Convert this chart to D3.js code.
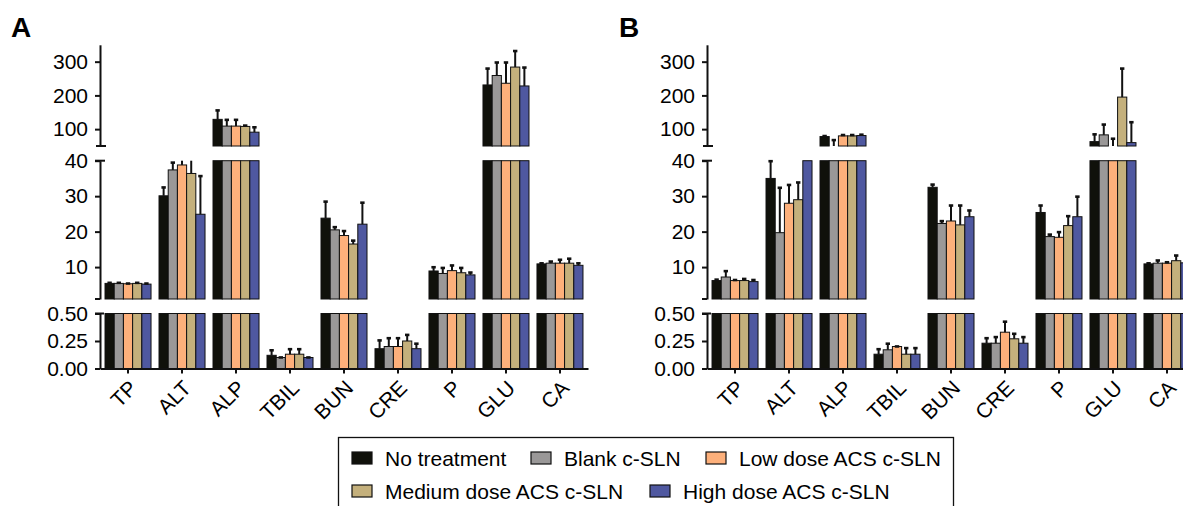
<!DOCTYPE html>
<html><head><meta charset="utf-8">
<script src="https://cdn.jsdelivr.net/npm/d3@7"></script>
<style>
body{margin:0;background:#fff}
svg{display:block}
text{font-family:"Liberation Sans",Arial,Helvetica,sans-serif;fill:#000}
</style>
</head><body>
<svg id="chart" width="1183" height="506"></svg>
<script>
// ---------- data ----------
const categories = ["TP","ALT","ALP","TBIL","BUN","CRE","P","GLU","CA"];
const seriesNames = ["No treatment","Blank c-SLN","Low dose ACS c-SLN","Medium dose ACS c-SLN","High dose ACS c-SLN"];
const seriesColors = ["#10110b","#9a9898","#fdb07b","#c4b07c","#4f58a0"];

// Panel A (means, upper SD)
const A_none      = [5.4, 30.1, 129, 0.12, 23.8, 0.18, 8.9, 231, 10.9];
const A_none_err  = [0.3, 2.5, 28, 0.05, 4.8, 0.08, 1.2, 50, 0.3];
const A_blank     = [5.4, 37.4, 109, 0.10, 20.5, 0.20, 8.2, 259, 11.1];
const A_blank_err = [0.3, 2.2, 20, 0.005, 0.9, 0.08, 1.7, 40, 0.6];
const A_low       = [5.3, 38.8, 109, 0.13, 18.9, 0.20, 9.0, 236, 11.1];
const A_low_err   = [0.2, 1.5, 20, 0.05, 1.4, 0.08, 1.6, 63, 1.1];
const A_med       = [5.4, 36.4, 108, 0.13, 16.5, 0.25, 8.4, 284, 11.1];
const A_med_err   = [0.3, 4.0, 4, 0.05, 1.1, 0.06, 1.5, 49, 1.4];
const A_high      = [5.2, 24.9, 91, 0.10, 22.1, 0.18, 7.8, 228, 10.5];
const A_high_err  = [0.3, 10.9, 16, 0.005, 6.2, 0.05, 0.8, 56, 0.7];

// Panel B
const B_none      = [6.2, 35.0, 78, 0.13, 32.5, 0.23, 25.4, 63, 10.9];
const B_none_err  = [0.4, 5.0, 3, 0.05, 0.9, 0.05, 2.1, 23, 0.3];
const B_blank     = [7.2, 19.7, 47, 0.17, 22.3, 0.23, 18.6, 83, 11.1];
const B_blank_err = [1.8, 12.8, 22, 0.06, 0.8, 0.06, 0.7, 32, 0.9];
const B_low       = [6.2, 28.0, 80, 0.20, 23.0, 0.33, 18.4, 45, 11.1];
const B_low_err   = [0.3, 5.3, 4, 0.005, 4.5, 0.10, 1.6, 28, 0.4];
const B_med       = [6.2, 29.0, 80, 0.13, 21.9, 0.27, 21.7, 195, 11.8];
const B_med_err   = [0.6, 5.0, 4, 0.06, 5.6, 0.05, 2.8, 86, 1.6];
const B_high      = [5.9, 45.0, 81, 0.13, 24.2, 0.23, 24.2, 60, 11.2];
const B_high_err  = [0.6, 5.0, 4, 0.06, 1.9, 0.06, 5.8, 62, 0.7];

// axis segments
const topTicks = [100, 200, 300];
const midTicks = [10, 20, 30, 40];
const lowTicks = [0, 0.25, 0.5];
const topDomain = [50, 350];
const midDomain = [1, 40];
const lowDomain = [0, 0.5];

// ---------- layout ----------
const svg = d3.select("#chart");
const FS = 21;
const segDefs = [
  {domain: topDomain, range: [146, 44.8], ticks: topTicks, fmt: d3.format("d")},
  {domain: midDomain, range: [299, 160.7], ticks: midTicks, fmt: d3.format("d")},
  {domain: lowDomain, range: [368.5, 313.5], ticks: lowTicks, fmt: d3.format(".2f")}
];

const panels = [
  {label: "A", axisX: 100, labelX: 11,
   means: [A_none, A_blank, A_low, A_med, A_high],
   errs: [A_none_err, A_blank_err, A_low_err, A_med_err, A_high_err]},
  {label: "B", axisX: 707, labelX: 619,
   means: [B_none, B_blank, B_low, B_med, B_high],
   errs: [B_none_err, B_blank_err, B_low_err, B_med_err, B_high_err]}
];

panels.forEach(p => {
  const g = svg.append("g");
  const x = d3.scaleBand().domain(categories)
    .range([p.axisX, p.axisX + 488]).paddingInner(0.148).paddingOuter(0.093);
  const xs = d3.scaleBand().domain(d3.range(seriesNames.length))
    .range([0, x.bandwidth()]).padding(0);

  g.append("text").attr("x", p.labelX).attr("y", 37)
    .attr("font-size", 28).attr("font-weight", "bold").text(p.label);

  segDefs.forEach((s, si) => {
    const y = d3.scaleLinear().domain(s.domain).range(s.range);
    const [d0, d1] = s.domain;
    const sg = g.append("g");
    p.means.forEach((arr, k) => {
      arr.forEach((v, ci) => {
        const bx = x(categories[ci]) + xs(k);
        const bw = xs.bandwidth();
        if (v > d0) {
          const top = Math.min(v, d1);
          sg.append("rect")
            .attr("x", bx).attr("width", bw)
            .attr("y", y(top)).attr("height", y(d0) - y(top))
            .attr("fill", seriesColors[k]).attr("stroke", "#111").attr("stroke-width", 1);
        }
      });
    });
    // error bars
    p.means.forEach((arr, k) => {
      arr.forEach((v, ci) => {
        const e = v + p.errs[k][ci];
        if (v >= d1 || e <= d0) return;
        const cx = x(categories[ci]) + xs(k) + xs.bandwidth() / 2;
        const lo = Math.max(v, d0), hi = Math.min(e, d1);
        sg.append("line").attr("x1", cx).attr("x2", cx)
          .attr("y1", y(lo)).attr("y2", y(hi))
          .attr("stroke", "#111").attr("stroke-width", 2);
        if (e <= d1) {
          sg.append("line").attr("x1", cx - 2.2).attr("x2", cx + 2.2)
            .attr("y1", y(e) + 0.5).attr("y2", y(e) + 0.5)
            .attr("stroke", "#111").attr("stroke-width", 2.6);
        }
      });
    });
    // y axis segment
    const ax = g.append("g").attr("transform", `translate(${p.axisX},0)`)
      .call(d3.axisLeft(y).tickValues(s.ticks).tickSize(5).tickSizeOuter(0).tickPadding(7).tickFormat(s.fmt));
    ax.select(".domain").attr("stroke", "#111").attr("stroke-width", 2);
    ax.selectAll(".tick line").attr("stroke", "#111").attr("stroke-width", 2);
    ax.selectAll(".tick text").attr("font-size", FS).attr("fill", "#000")
      .attr("font-family", '"Liberation Sans",Arial,sans-serif');
    // break marks
    const bm = (yy, l, r) => g.append("line").attr("x1", p.axisX - l).attr("x2", p.axisX + r)
      .attr("y1", yy).attr("y2", yy).attr("stroke", "#111").attr("stroke-width", 2);
    if (si === 0) bm(s.range[0], 4, 6);
    if (si === 1) { bm(s.range[1], 5, 5); bm(s.range[0], 5, 0); }
    if (si === 2) bm(s.range[1], 5, 4);
  });

  // x axis
  const xa = g.append("g").attr("transform", "translate(0,368.5)")
    .call(d3.axisBottom(x).tickSize(5).tickSizeOuter(0).tickFormat(""));
  xa.select(".domain").attr("stroke", "#111").attr("stroke-width", 2);
  xa.selectAll(".tick line").attr("stroke", "#111").attr("stroke-width", 2);
  g.selectAll(".xl-" + p.label).data(categories).enter().append("text")
    .attr("class", "xl-" + p.label)
    .attr("font-size", FS).attr("text-anchor", "end")
    .attr("transform", d => `translate(${x(d) + x.bandwidth() / 2},379) rotate(-45)`)
    .attr("dy", "0.7em")
    .text(d => d);
});

// ---------- legend ----------
const lg = svg.append("g");
lg.append("rect").attr("x", 338.5).attr("y", 437.5).attr("width", 615).attr("height", 90)
  .attr("fill", "none").attr("stroke", "#111").attr("stroke-width", 1.3);
const legendPos = [[352, 458], [531, 458], [706, 458], [352, 491], [650, 491]];
seriesNames.forEach((n, i) => {
  const [lx, ly] = legendPos[i];
  lg.append("rect").attr("x", lx).attr("y", ly - 6).attr("width", 20).attr("height", 12)
    .attr("fill", seriesColors[i]).attr("stroke", "#111").attr("stroke-width", 1.2);
  lg.append("text").attr("x", lx + 33).attr("y", ly).attr("dy", "0.36em")
    .attr("font-size", FS).text(n);
});
</script>
</body></html>
